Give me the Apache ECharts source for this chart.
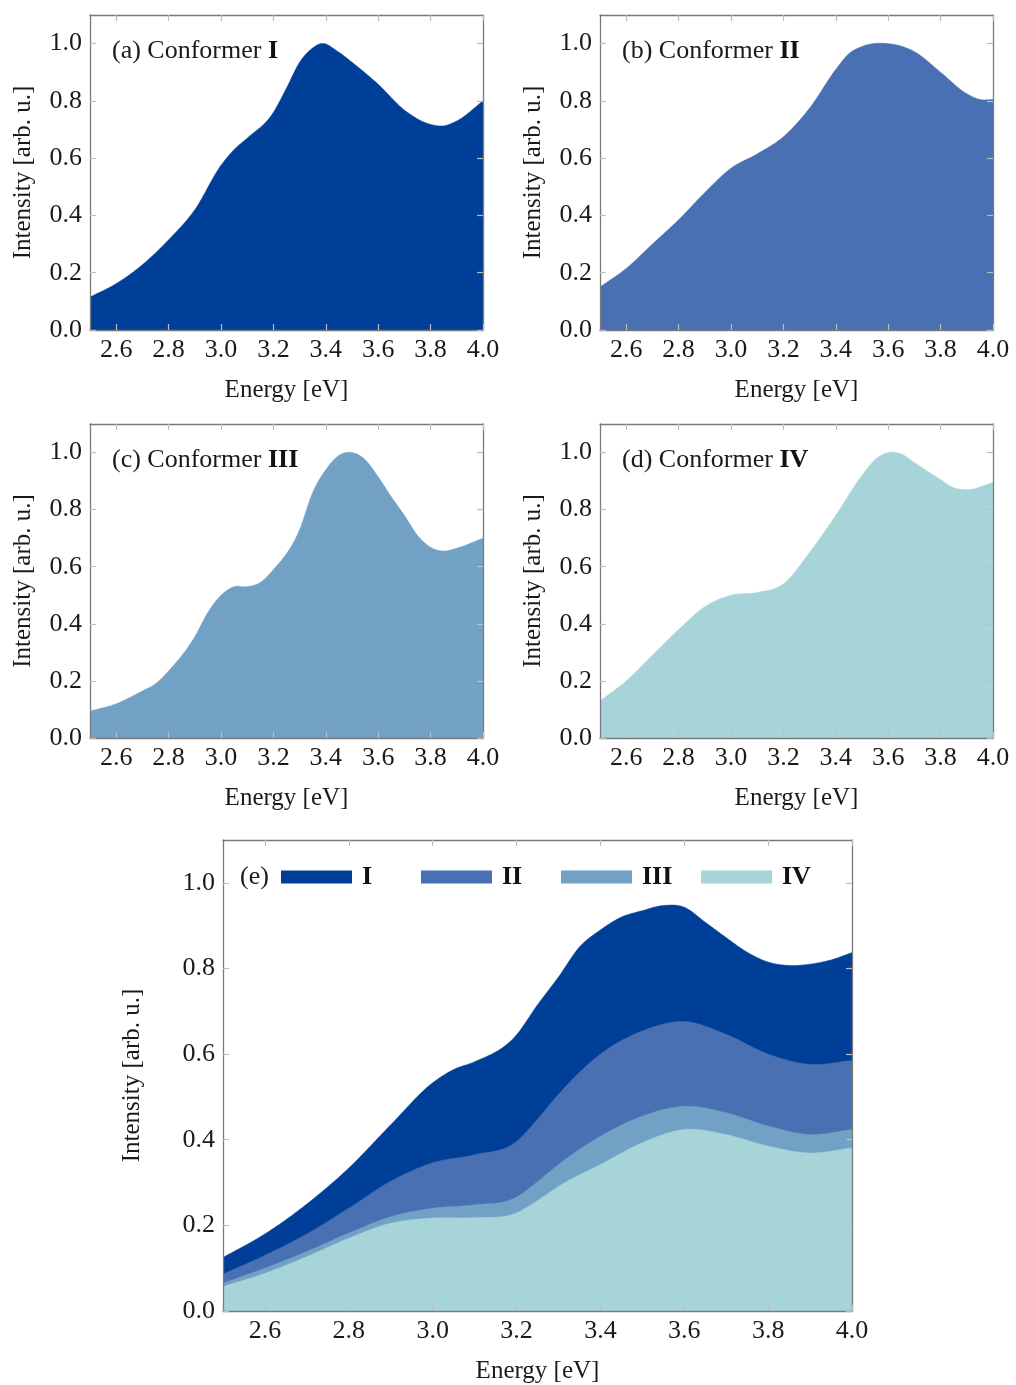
<!DOCTYPE html>
<html>
<head>
<meta charset="utf-8">
<title>Absorption spectra of conformers I–IV</title>
<script src="https://cdn.jsdelivr.net/npm/echarts@6/dist/echarts.min.js"></script>
<style>
  html, body { margin: 0; padding: 0; background: #ffffff; }
  #chart { width: 1016px; height: 1385px; }
</style>
</head>
<body>
<div id="chart"></div>
<script>
// ---- spectra (energy in eV, normalised intensity) ----
const energyI = [2.5, 2.6, 2.7, 2.8, 2.9, 3.0, 3.05, 3.1, 3.2, 3.25, 3.3, 3.35, 3.38, 3.45, 3.5, 3.6, 3.7, 3.8, 3.85, 3.9, 4.0];
const intensityI = [0.115, 0.162, 0.228, 0.315, 0.42, 0.575, 0.63, 0.67, 0.76, 0.845, 0.935, 0.985, 1.0, 0.97, 0.935, 0.858, 0.768, 0.718, 0.713, 0.73, 0.80];

const energyII = [2.5, 2.6, 2.7, 2.8, 2.9, 3.0, 3.1, 3.2, 3.3, 3.4, 3.45, 3.5, 3.6, 3.7, 3.8, 3.9, 3.95, 4.0];
const intensityII = [0.15, 0.215, 0.30, 0.385, 0.48, 0.565, 0.615, 0.675, 0.775, 0.91, 0.965, 0.99, 1.0, 0.972, 0.90, 0.825, 0.805, 0.805];

const energyIII = [2.5, 2.6, 2.7, 2.75, 2.8, 2.9, 2.95, 3.0, 3.05, 3.1, 3.15, 3.2, 3.3, 3.35, 3.4, 3.45, 3.5, 3.55, 3.6, 3.65, 3.7, 3.75, 3.8, 3.85, 3.9, 4.0];
const intensityIII = [0.094, 0.12, 0.165, 0.19, 0.235, 0.355, 0.44, 0.50, 0.53, 0.53, 0.545, 0.59, 0.73, 0.86, 0.94, 0.99, 1.0, 0.975, 0.915, 0.845, 0.78, 0.71, 0.668, 0.655, 0.665, 0.70];

const energyIV = [2.5, 2.6, 2.7, 2.8, 2.9, 3.0, 3.1, 3.2, 3.3, 3.4, 3.5, 3.55, 3.6, 3.65, 3.7, 3.8, 3.85, 3.9, 4.0];
const intensityIV = [0.13, 0.20, 0.29, 0.38, 0.46, 0.50, 0.51, 0.54, 0.65, 0.78, 0.92, 0.975, 1.0, 0.995, 0.965, 0.905, 0.877, 0.87, 0.895];

// ---- weighted sum: cumulative upper edge of each layer ----
const energyMixI = [2.5, 2.6, 2.7, 2.8, 2.9, 3.0, 3.05, 3.1, 3.2, 3.25, 3.3, 3.35, 3.4, 3.45, 3.5, 3.55, 3.6, 3.65, 3.7, 3.75, 3.8, 3.85, 3.9, 3.95, 4.0];
const mixTopI = [0.125, 0.18, 0.25, 0.334, 0.435, 0.533, 0.564, 0.582, 0.645, 0.715, 0.78, 0.85, 0.89, 0.92, 0.935, 0.947, 0.943, 0.908, 0.872, 0.838, 0.815, 0.807, 0.81, 0.82, 0.837];

const energyMix = [2.5, 2.6, 2.7, 2.8, 2.9, 3.0, 3.1, 3.2, 3.25, 3.3, 3.4, 3.5, 3.6, 3.7, 3.8, 3.9, 4.0];
const mixTopII = [0.086, 0.13, 0.18, 0.24, 0.303, 0.346, 0.365, 0.396, 0.448, 0.506, 0.60, 0.654, 0.676, 0.646, 0.60, 0.576, 0.585];
const mixTopIII = [0.065, 0.10, 0.139, 0.182, 0.22, 0.24, 0.248, 0.266, 0.302, 0.342, 0.408, 0.455, 0.478, 0.463, 0.432, 0.412, 0.424];
const mixTopIV = [0.057, 0.088, 0.127, 0.17, 0.205, 0.217, 0.218, 0.229, 0.258, 0.291, 0.342, 0.393, 0.424, 0.412, 0.385, 0.369, 0.381];

// ---- axes ----
const energyTicks = [2.6, 2.8, 3.0, 3.2, 3.4, 3.6, 3.8, 4.0];
const intensityTicks = [0.0, 0.2, 0.4, 0.6, 0.8, 1.0];
const conformerNames = ['I', 'II', 'III', 'IV'];
const panelLetters = ['(a)', '(b)', '(c)', '(d)', '(e)'];

const colors = ['#003f98', '#4870b2', '#72a1c6', '#a6d4d9'];
const FONT = "'Liberation Serif', 'DejaVu Serif', serif";
const frameColor = '#7a7a7a';
const tickColor = '#bdbdbd';

const grids = [
  { left: 90,  top: 15,  width: 393, height: 315 },
  { left: 600, top: 15,  width: 393, height: 315 },
  { left: 90,  top: 424, width: 393, height: 314 },
  { left: 600, top: 424, width: 393, height: 314 },
  { left: 223, top: 840, width: 629, height: 471 }
];

const pairs = (xs, ys) => xs.map((x, i) => [x, ys[i]]);

const xAxes = [];
const yAxes = [];
grids.forEach((g, gi) => {
  const big = gi === 4;
  const common = {
    gridIndex: gi, type: 'value', z: 5,
    axisLine: { show: true, onZero: false, lineStyle: { color: frameColor, width: 1.3 } },
    splitLine: { show: false }
  };
  const tick = values => ({ show: true, inside: true, length: 6, customValues: values,
                            lineStyle: { color: tickColor, width: 1.2 } });
  xAxes.push(Object.assign({}, common, {
    position: 'bottom', min: 2.5, max: 4.0,
    name: 'Energy [eV]', nameLocation: 'middle', nameGap: 48,
    nameTextStyle: { fontFamily: FONT, fontSize: 25, color: '#1a1a1a' },
    axisTick: tick(energyTicks),
    axisLabel: { show: true, margin: 7, customValues: energyTicks, formatter: v => v.toFixed(1),
                 fontFamily: FONT, fontSize: 26, color: '#1a1a1a' }
  }));
  xAxes.push(Object.assign({}, common, {
    position: 'top', min: 2.5, max: 4.0,
    axisTick: tick(energyTicks),
    axisLabel: { show: false }
  }));
  yAxes.push(Object.assign({}, common, {
    position: 'left', min: 0, max: 1.1,
    name: 'Intensity [arb. u.]', nameLocation: 'middle', nameGap: big ? 78 : 54,
    nameTextStyle: { fontFamily: FONT, fontSize: 25, color: '#1a1a1a' },
    axisTick: tick(intensityTicks),
    axisLabel: { show: true, margin: 8, customValues: intensityTicks, formatter: v => v.toFixed(1),
                 fontFamily: FONT, fontSize: 26, color: '#1a1a1a' }
  }));
  yAxes.push(Object.assign({}, common, {
    position: 'right', min: 0, max: 1.1,
    axisTick: tick(intensityTicks),
    axisLabel: { show: false }
  }));
});

// Filled area under a smooth curve through the data points.
// Points are mapped to pixels with api.coord, then joined by a C1 cubic
// Hermite spline (three-point slopes) and closed down to intensity 0.
function smoothAreaRenderer(data, color) {
  return function (params, api) {
    if (params.dataIndex !== 0) return null;
    const p = data.map(d => api.coord(d));
    const n = p.length;
    const slope = (a, b) => (p[b][1] - p[a][1]) / (p[b][0] - p[a][0]);
    const m = p.map((_, i) => {
      if (i === 0) return slope(0, 1);
      if (i === n - 1) return slope(n - 2, n - 1);
      const h0 = p[i][0] - p[i - 1][0], h1 = p[i + 1][0] - p[i][0];
      return (h1 * slope(i - 1, i) + h0 * slope(i, i + 1)) / (h0 + h1);
    });
    const base = api.coord([data[0][0], 0])[1];
    const pts = [[p[0][0], base]];
    const steps = 24;
    for (let i = 0; i < n - 1; i++) {
      const x0 = p[i][0], y0 = p[i][1], x1 = p[i + 1][0], y1 = p[i + 1][1];
      const h = x1 - x0;
      for (let k = 0; k < steps; k++) {
        const t = k / steps, t2 = t * t, t3 = t2 * t;
        const y = (2 * t3 - 3 * t2 + 1) * y0 + (t3 - 2 * t2 + t) * h * m[i]
                + (-2 * t3 + 3 * t2) * y1 + (t3 - t2) * h * m[i + 1];
        pts.push([x0 + t * h, y]);
      }
    }
    pts.push(p[n - 1]);
    pts.push([p[n - 1][0], base]);
    return {
      type: 'polygon',
      shape: { points: pts },
      style: { fill: color, stroke: color, lineWidth: 0.5 }
    };
  };
}

const areaSeries = (name, gi, data, color) => ({
  name: name, type: 'custom', coordinateSystem: 'cartesian2d',
  xAxisIndex: gi * 2, yAxisIndex: gi * 2,
  data: data, encode: { x: 0, y: 1 },
  renderItem: smoothAreaRenderer(data, color),
  clip: true,
  color: color,
  itemStyle: { color: color },
  silent: true
});

const singles = [
  pairs(energyI, intensityI), pairs(energyII, intensityII),
  pairs(energyIII, intensityIII), pairs(energyIV, intensityIV)
];
const mixes = [
  pairs(energyMixI, mixTopI), pairs(energyMix, mixTopII),
  pairs(energyMix, mixTopIII), pairs(energyMix, mixTopIV)
];

const series = [];
singles.forEach((d, i) => series.push(areaSeries('Conformer ' + conformerNames[i], i, d, colors[i])));
// layers drawn from the tallest edge down so each lower layer sits on top
mixes.forEach((d, i) => series.push(areaSeries(conformerNames[i], 4, d, colors[i])));

const panelTitle = (i, left, top) => ({
  left: left, top: top, padding: 0,
  text: '{n|' + panelLetters[i] + ' Conformer }{b|' + conformerNames[i] + '}',
  textStyle: {
    fontWeight: 'normal',
    rich: {
      n: { fontFamily: FONT, fontSize: 26, fontWeight: 'normal', color: '#1a1a1a', lineHeight: 30 },
      b: { fontFamily: FONT, fontSize: 26, fontWeight: 'bold', color: '#111', lineHeight: 30 }
    }
  }
});

const option = {
  animation: false,
  backgroundColor: '#ffffff',
  grid: grids.map(g => Object.assign({ show: false, containLabel: false }, g)),
  xAxis: xAxes,
  yAxis: yAxes,
  title: [
    panelTitle(0, 112, 36),
    panelTitle(1, 622, 36),
    panelTitle(2, 112, 445),
    panelTitle(3, 622, 445),
    { left: 240, top: 862, padding: 0, text: panelLetters[4],
      textStyle: { fontFamily: FONT, fontSize: 26, fontWeight: 'normal', color: '#1a1a1a', lineHeight: 30 } }
  ],
  legend: {
    data: conformerNames,
    left: 281, top: 864, padding: 0,
    orient: 'horizontal',
    icon: 'rect', itemWidth: 71, itemHeight: 13, itemGap: 25,
    selectedMode: false,
    itemStyle: { borderWidth: 0 },
    textStyle: { fontFamily: FONT, fontSize: 26, fontWeight: 'bold', color: '#111',
                 width: 34, padding: [0, 0, 0, 5], lineHeight: 26 }
  },
  series: series
};

const chart = echarts.init(document.getElementById('chart'), null, { renderer: 'canvas' });
chart.setOption(option);
</script>
</body>
</html>
